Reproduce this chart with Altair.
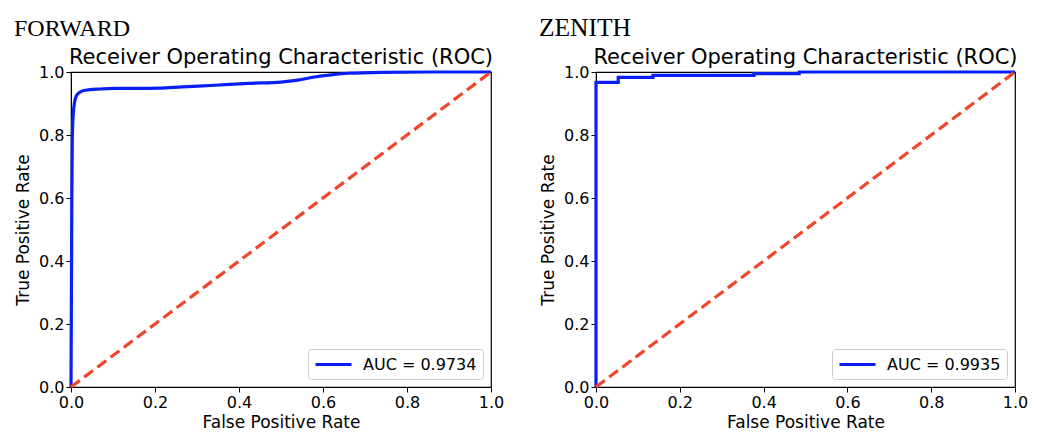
import altair as alt
import pandas as pd

# ---- data ----
fwd_fpr = [0.0, 0.001, 0.002, 0.003, 0.005, 0.008, 0.013, 0.02, 0.03, 0.045, 0.07, 0.106,
           0.16, 0.21, 0.265, 0.343, 0.423, 0.50, 0.54, 0.58, 0.62, 0.66, 0.74, 0.85, 1.0]
fwd_tpr = [0.0, 0.30, 0.60, 0.78, 0.86, 0.90, 0.925, 0.935, 0.941, 0.944, 0.946, 0.948,
           0.948, 0.949, 0.953, 0.958, 0.964, 0.968, 0.974, 0.984, 0.991, 0.996, 0.999, 1.0, 1.0]
fwd_auc = "AUC = 0.9734"

zen_fpr = [0.0, 0.0, 0.053, 0.136, 0.377, 0.485, 1.0]
zen_tpr = [0.0, 0.967, 0.983, 0.989, 0.995, 1.0, 1.0]
zen_auc = "AUC = 0.9935"

diag = [0.0, 1.0]
ticks = [0.0, 0.2, 0.4, 0.6, 0.8, 1.0]

panel_titles = ["FORWARD", "ZENITH"]
roc_title = "Receiver Operating Characteristic (ROC)"
x_label = "False Positive Rate"
y_label = "True Positive Rate"

BLUE = "#0a1ff5"
RED = "#f0452a"
FONT = "DejaVu Sans"


def panel(fpr, tpr, auc, name, name_size, interp, w):
    df = pd.DataFrame({"fpr": fpr, "tpr": tpr, "lbl": [auc] * len(fpr)})
    ddf = pd.DataFrame({"fpr": diag, "tpr": diag})
    xs = alt.Scale(domain=[0, 1], nice=False, zero=False, padding=0)
    ys = alt.Scale(domain=[0, 1], nice=False, zero=False, padding=0)
    xax = alt.Axis(title=x_label, values=ticks, format=".1f", labelFlush=False)
    yax = alt.Axis(title=y_label, values=ticks, format=".1f", labelFlush=False)
    roc = alt.Chart(df).mark_line(strokeWidth=3.2, interpolate=interp).encode(
        x=alt.X("fpr:Q", scale=xs, axis=xax),
        y=alt.Y("tpr:Q", scale=ys, axis=yax),
        order=alt.Order("fpr:Q"),
        color=alt.Color("lbl:N", scale=alt.Scale(domain=[auc], range=[BLUE]),
                        legend=alt.Legend(title=None, orient="bottom-right")),
    )
    dg = alt.Chart(ddf).mark_line(strokeWidth=3.2, strokeDash=[11, 5.5], color=RED).encode(
        x=alt.X("fpr:Q", scale=xs),
        y=alt.Y("tpr:Q", scale=ys),
    )
    lay = alt.layer(roc, dg).properties(
        width=w, height=315,
        title=alt.TitleParams(roc_title, anchor="middle", fontSize=21, font=FONT,
                              fontWeight="normal", color="black", offset=-4),
    )
    return alt.vconcat(lay, title=alt.TitleParams(
        name, anchor="start", font="Liberation Serif", fontSize=name_size,
        fontWeight="normal", color="black", offset=5, frame="bounds")).resolve_scale(
        color="independent").resolve_legend(color="independent")


left = panel(fwd_fpr, fwd_tpr, fwd_auc, panel_titles[0], 24, "monotone", 420)
right = panel(zen_fpr, zen_tpr, zen_auc, panel_titles[1], 25.5, "step-after", 419)

chart = alt.hconcat(left, right, spacing=33).resolve_scale(
    color="independent"
).resolve_legend(color="independent").properties(
    padding={"left": 5, "top": 7, "right": 0, "bottom": 0}
).configure_view(
    stroke="black", strokeWidth=1.2
).configure_axis(
    labelFont=FONT, titleFont=FONT, labelFontSize=16, titleFontSize=17,
    titleFontWeight="normal", labelColor="black", titleColor="black",
    domainColor="black", tickColor="black", tickSize=5, grid=False,
    labelPadding=2, titlePadding=4,
).configure_axisY(titlePadding=6).configure_legend(
    labelFont=FONT, labelFontSize=16, labelColor="black", symbolType="M-1,0H3.5",
    symbolSize=256, symbolStrokeWidth=3, strokeColor="#cccccc", fillColor="white",
    cornerRadius=3, padding=6, offset=8, labelOffset=30, labelLimit=300,
)

chart.save("out.html", embed_options={"renderer": "svg", "actions": False})
